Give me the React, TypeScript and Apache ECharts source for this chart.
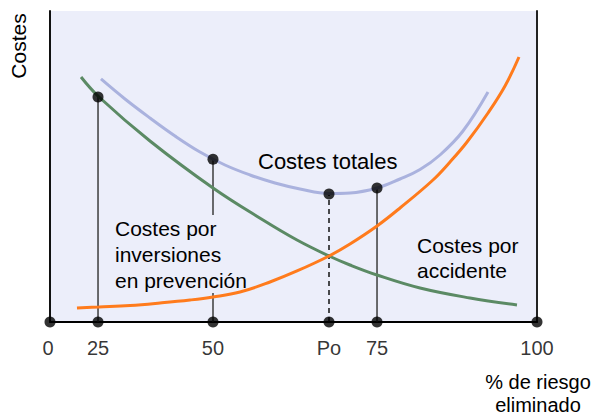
import React, { useEffect, useRef } from "react";
import * as echarts from "echarts";

// x positions are in axis units (0..100 along the drawn axis)
const tickPos = [0, 9.86, 33.47, 57.29, 67.15, 100];
const tickLabels = ["0", "25", "50", "Po", "75", "100"];

const accidentX = [6.37, 10.06, 20.53, 33.47, 43.74, 50.72, 57.29, 61.6, 67.15, 75.98, 86.24, 95.89];
const accidentY = [78.78, 72.35, 58.2, 43.09, 32.8, 26.37, 21.22, 18.33, 15.11, 10.93, 7.72, 5.47];

const totalX = [10.47, 15.4, 20.53, 25.67, 30.8, 35.93, 41.07, 46.2, 51.33, 57.29, 61.6, 67.15, 71.87, 75.98, 80.08, 84.8, 89.94];
const totalY = [78.14, 71.7, 65.59, 59.81, 54.66, 50.48, 47.27, 44.69, 42.77, 41.32, 41.48, 43.09, 45.98, 49.04, 53.7, 61.41, 73.95];

const preventionX = [5.54, 10.06, 16.43, 22.59, 28.75, 33.47, 39.01, 45.17, 50.72, 57.29, 61.6, 67.15, 71.87, 78.64, 82.14, 85.63, 89.94, 93.43, 96.3];
const preventionY = [4.5, 4.82, 5.31, 6.11, 7.07, 8.04, 9.65, 12.86, 16.4, 21.22, 25.08, 30.87, 36.66, 45.66, 51.45, 57.88, 67.2, 75.88, 85.21];

const dotX = [9.86, 33.47, 57.29, 67.15];
const dotY = [72.35, 52.3, 41.16, 43.09];
const dotDashed = [false, false, true, false];

const FONT = "'Liberation Sans', Arial, sans-serif";
const BG = "#eceefa";

const zip = (xs: number[], ys: number[]) => xs.map((x, i) => [x, ys[i]]);

export default function App() {
  const ref = useRef<HTMLDivElement>(null);
  useEffect(() => {
    if (!ref.current) return;
    const chart = echarts.init(ref.current, null, { renderer: "svg" });
    const verticals = dotX.map((x, i) => ({
      type: "line",
      z: 1,
      symbol: "none",
      silent: true,
      data: [
        [x, 0],
        [x, dotY[i]],
      ],
      lineStyle: {
        color: dotDashed[i] ? "#111" : "#3c3c3c",
        width: 1.5,
        type: dotDashed[i] ? [5, 4] : "solid",
      },
    }));
    const option: any = {
      animation: false,
      grid: {
        left: 50,
        right: 62,
        top: 11,
        bottom: 92,
        show: true,
        backgroundColor: BG,
        borderWidth: 0,
      },
      xAxis: {
        type: "value",
        min: 0,
        max: 100,
        axisLine: { show: true, onZero: false, lineStyle: { color: "#000", width: 2 } },
        axisTick: { show: false },
        axisLabel: { show: false },
        splitLine: { show: false },
      },
      yAxis: [
        {
          type: "value",
          min: 0,
          max: 100,
          position: "left",
          axisLine: { show: true, lineStyle: { color: "#111", width: 2 } },
          axisTick: { show: false },
          axisLabel: { show: false },
          splitLine: { show: false },
        },
        {
          type: "value",
          min: 0,
          max: 100,
          position: "right",
          axisLine: { show: true, lineStyle: { color: "#222", width: 2 } },
          axisTick: { show: false },
          axisLabel: { show: false },
          splitLine: { show: false },
        },
      ],
      series: [
        ...verticals,
        {
          type: "line",
          name: "Costes por accidente",
          z: 3,
          smooth: 0.4,
          symbol: "none",
          data: zip(accidentX, accidentY),
          lineStyle: { color: "#5b8a64", width: 3 },
        },
        {
          type: "line",
          name: "Costes totales",
          z: 3,
          smooth: 0.4,
          symbol: "none",
          data: zip(totalX, totalY),
          lineStyle: { color: "#aab2de", width: 3 },
        },
        {
          type: "line",
          name: "Costes por inversiones en prevención",
          z: 3,
          smooth: 0.4,
          symbol: "none",
          data: zip(preventionX, preventionY),
          lineStyle: { color: "#ff7b1c", width: 3 },
        },
        {
          type: "scatter",
          z: 4,
          symbolSize: 11,
          data: zip(dotX, dotY),
          itemStyle: { color: "#000" },
        },
        {
          type: "scatter",
          z: 4,
          clip: false,
          symbolSize: 11,
          itemStyle: { color: "#000" },
          data: tickPos.map((x, i) => ({
            value: [x, 0],
            name: tickLabels[i],
            label: i === 0 ? { offset: [-2, 0] } : undefined,
          })),
          label: {
            show: true,
            position: "bottom",
            distance: 10,
            formatter: (p: any) => p.name,
            fontFamily: FONT,
            fontSize: 20,
            color: "#000",
          },
        },
      ],
      graphic: [
        {
          type: "text",
          x: 18,
          y: 46,
          rotation: Math.PI / 2,
          style: {
            text: "Costes",
            font: `21px ${FONT}`,
            fill: "#000",
            align: "center",
            verticalAlign: "middle",
          },
        },
        {
          type: "text",
          x: 258,
          y: 161,
          z: 5,
          style: {
            text: "Costes totales",
            font: `22px ${FONT}`,
            fill: "#000",
            align: "left",
            verticalAlign: "middle",
          },
        },
        {
          type: "text",
          x: 112,
          y: 215,
          z: 2,
          style: {
            text: "Costes por\ninversiones\nen prevención",
            font: `21px ${FONT}`,
            lineHeight: 26,
            fill: "#000",
            align: "left",
            verticalAlign: "top",
            backgroundColor: BG,
            padding: [0, 3, 0, 3],
          },
        },
        {
          type: "text",
          x: 417,
          y: 233,
          z: 5,
          style: {
            text: "Costes por\naccidente",
            font: `21px ${FONT}`,
            lineHeight: 25,
            fill: "#000",
            align: "left",
            verticalAlign: "top",
          },
        },
        {
          type: "text",
          x: 538,
          y: 370,
          z: 5,
          style: {
            text: "% de riesgo\neliminado",
            font: `20px ${FONT}`,
            lineHeight: 23,
            fill: "#000",
            align: "center",
            verticalAlign: "top",
          },
        },
      ],
    };
    chart.setOption(option);
    return () => chart.dispose();
  }, []);
  return <div ref={ref} style={{ width: 599, height: 414, position: "absolute", left: 0, top: 0 }} />;
}
